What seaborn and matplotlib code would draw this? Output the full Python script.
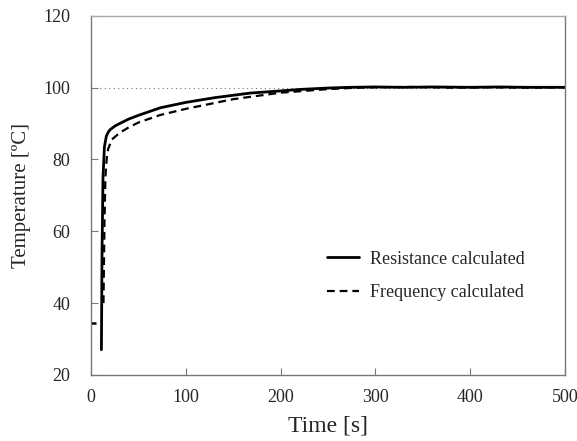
import numpy as np
import pandas as pd
import matplotlib
matplotlib.use("Agg")
import matplotlib.pyplot as plt
import seaborn as sns

# Resistance-calculated temperature curve
res_time = [10.8, 11.5, 12.5, 14, 16, 18, 20, 25, 30, 40, 50, 73, 100, 130, 168, 200, 220, 250, 273,
            300, 330, 360, 400, 430, 460, 500]
res_temp = [27.0, 55.0, 75.0, 83.5, 86.5, 87.6, 88.3, 89.3, 90.0, 91.3, 92.3, 94.4, 95.9, 97.2, 98.5, 99.1,
            99.5, 99.9, 100.1, 100.2, 100.1, 100.2, 100.1, 100.2, 100.1, 100.1]

# Frequency-calculated temperature curve
freq_time = [0, 5.5, 5.6, 13, 14, 15, 16.5, 18, 22, 30, 40, 50, 73, 100, 150, 200, 250, 280,
             300, 340, 380, 420, 460, 500]
freq_temp = [34.5, 34.5, np.nan, 40.0, 62.0, 75.0, 80.5, 83.0, 85.6, 87.4, 89.0, 90.3, 92.4, 94.1, 96.8,
             98.6, 99.6, 100.0, 100.1, 100.2, 100.0, 100.1, 100.0, 100.1]

target_temp = 100

sns.set_style("ticks")
plt.rcParams["font.family"] = ["Liberation Serif", "DejaVu Serif"]

fig = plt.figure(figsize=(5.77, 4.41), dpi=100)
ax = fig.add_axes([0.158, 0.150, 0.821, 0.814])

ax.axhline(target_temp, color="#777777", linestyle=(0, (1, 3)), linewidth=0.8, zorder=1)

df_res = pd.DataFrame({"t": res_time, "T": res_temp})
df_freq = pd.DataFrame({"t": freq_time, "T": freq_temp})

# initial short segment (start of the frequency trace)
ax.plot(freq_time[:2], freq_temp[:2], color="black", linewidth=1.8, solid_capstyle="butt")
sns.lineplot(data=df_freq.iloc[3:], x="t", y="T", ax=ax, color="black", linewidth=1.6,
             sort=False, estimator=None)
ax.lines[-1].set_dashes((3.5, 2.2))
ax.lines[-1].set_label("Frequency calculated")
sns.lineplot(data=df_res, x="t", y="T", ax=ax, color="black", linewidth=2.0,
             sort=False, estimator=None, label="Resistance calculated")

ax.set_xlim(0, 500)
ax.set_ylim(20, 120)
ax.set_xticks([0, 100, 200, 300, 400, 500])
ax.set_yticks([20, 40, 60, 80, 100, 120])
ax.tick_params(direction="in", length=5, width=0.8, color="#777777", labelsize=13)
ax.tick_params(axis="y", pad=15)
ax.tick_params(axis="x", pad=10)
for side in ["left", "right", "bottom"]:
    ax.spines[side].set_color("#777777")
    ax.spines[side].set_linewidth(1.0)
ax.spines["top"].set_color("#aaaaaa")
ax.spines["top"].set_linewidth(1.0)

ax.set_xlabel("Time [s]", fontsize=17, labelpad=7)
ax.set_ylabel("Temperature [ºC]", fontsize=15, labelpad=9)

h, l = ax.get_legend_handles_labels()
order = [l.index("Resistance calculated"), l.index("Frequency calculated")]
ax.legend([h[i] for i in order], [l[i] for i in order], frameon=False, fontsize=13,
          loc="center left", bbox_to_anchor=(0.497, 0.276), handlelength=1.8,
          handletextpad=0.6, borderaxespad=0, borderpad=0, labelspacing=0.9)

fig.savefig("out.png", dpi=100)
